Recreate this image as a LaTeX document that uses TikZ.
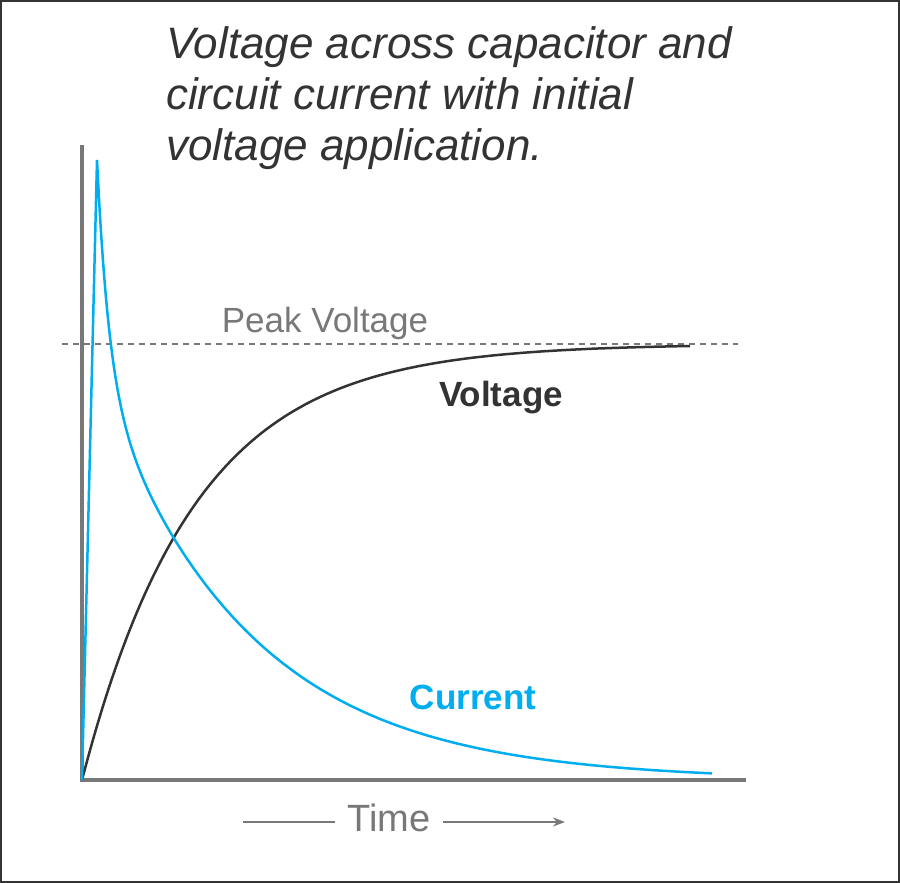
\documentclass[tikz,border=0pt]{standalone}
\usepackage{fontspec}
\setmainfont{Liberation Sans}
\usetikzlibrary{arrows.meta}
\definecolor{axisgray}{RGB}{120,120,120}
\definecolor{curcyan}{RGB}{0,174,239}
\definecolor{textdark}{RGB}{51,51,51}
\begin{document}
\begin{tikzpicture}[
    x = 1pt, y = -1pt,
    axis/.style = {draw = axisgray, line width = 4pt},
    curve/.style = {line width = 2.5pt},
    label/.style = {inner sep = 0pt, font = \fontsize{35}{40}\selectfont}
  ]
  \useasboundingbox (0,0) rectangle (900,883);
  \draw[textdark, line width = 1.5pt] (1,1) rectangle (899,882);

  % title
  \node (Title) [anchor = north west, align = left, inner sep = 0pt, text = textdark,
    font = \fontsize{44}{51}\selectfont\itshape] at (166,26)
    {Voltage across capacitor and\\circuit current with initial\\voltage application.};

  % axes
  \coordinate (O) at (82,780);
  \coordinate (Ytop) at (82,145);
  \coordinate (Xend) at (746,780);
  \draw[axis] (Ytop) -- (O) -- (Xend);

  % peak voltage level
  \coordinate (PL) at (62,344);
  \coordinate (PR) at (738,344);
  \draw[axisgray, line width = 2pt, dash pattern = on 6pt off 5pt] (PL) -- (PR);
  \node (Peak) [label, text = axisgray] at (325,323) {Peak Voltage};

  % curves
  \draw[curve, textdark] plot[domain = 82:690, samples = 120, smooth]
    (\x, {780 - 436*(1 - exp(-(\x - 82)/113))});
  \draw[curve, curcyan] (O) -- (97,160)
    plot[domain = 97:712, samples = 240, smooth]
    (\x, {780 - 620*(0.35*exp(-(\x - 97)/12) + 0.65*exp(-(\x - 97)/150))});
  \node (Volt) [label, text = textdark, font = \fontsize{35}{40}\selectfont\bfseries] at (501,398) {Voltage};
  \node (Curr) [label, text = curcyan, font = \fontsize{35}{40}\selectfont\bfseries] at (473,697) {Current};

  % time arrow
  \node (Time) [label, text = axisgray, font = \fontsize{38}{44}\selectfont] at (389,818) {Time};
  \coordinate (TL) at (243,822);
  \coordinate (TR) at (565,822);
  \draw[axisgray, line width = 1.5pt] (TL) -- ([xshift = -12pt]Time.west |- TL);
  \draw[axisgray, line width = 1.5pt, -{Stealth[length = 12pt, width = 9pt]}] ([xshift = 12pt]Time.east |- TR) -- (TR);
\end{tikzpicture}
\end{document}
